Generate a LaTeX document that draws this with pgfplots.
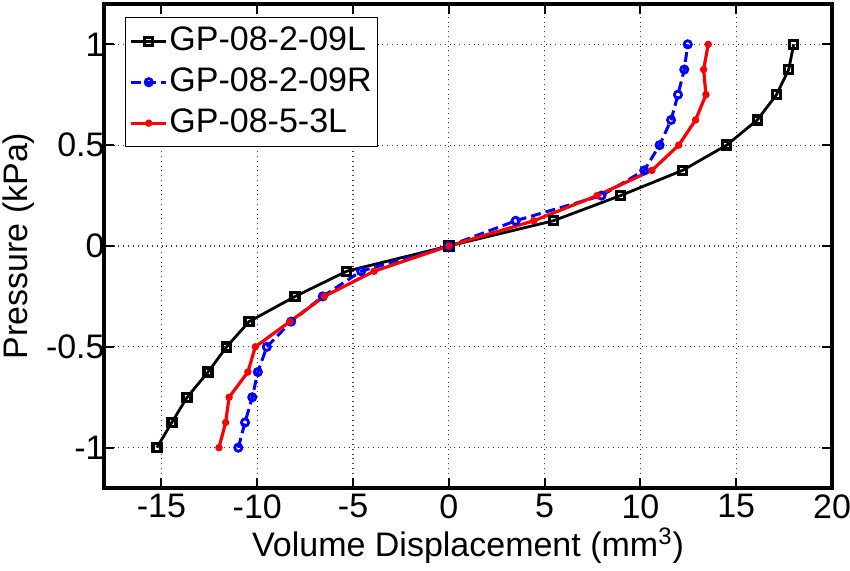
\documentclass[border=0pt]{standalone}
\usepackage{fontspec}
\setmainfont{Liberation Sans}
\usepackage{pgfplots}
\pgfplotsset{compat=1.18}

\begin{document}
\fontsize{17}{20}\selectfont
\begin{tikzpicture}
\begin{axis}[
    scale only axis,
    width=364pt, height=242pt,
    xmin=-18, xmax=20,
    ymin=-1.2, ymax=1.2,
    xtick={-15,-10,-5,0,5,10,15,20},
    ytick={-1,-0.5,0,0.5,1},
    yticklabels={-1,-0.5,0,0.5,1},
    xticklabels={-15,-10,-5,0,5,10,15,20},
    tick align=inside,
    tick pos=both,
    major tick length=5pt,
    tick style={black, line width=1pt},
    axis line style={black, line width=1.8pt},
    grid=major,
    grid style={black!75, dotted, line width=0.6pt},
    tick label style={font=\fontsize{17}{20}\selectfont},
    xticklabel style={inner ysep=3pt},
    yticklabel style={inner xsep=2pt, xshift=2.5pt},
    label style={font=\fontsize{17}{20}\selectfont},
    xlabel={Volume Displacement (mm\textsuperscript{3})},
    ylabel={Pressure (kPa)},
    xlabel style={at={(axis description cs:0.5,0)}, anchor=base, yshift=-34.5pt},
    ylabel style={at={(axis description cs:0,0.5)}, anchor=center, yshift=42.5pt},
    legend style={
        at={(0.0288,0.9731)}, anchor=north west,
        draw=black, line width=0.7pt, fill=white,
        font=\fontsize{17}{20}\selectfont,
        inner xsep=2pt, inner ysep=4pt, row sep=5pt,
        nodes={inner xsep=0.8pt, inner ysep=0pt, text height=12.5pt, text depth=3pt},
    },
    legend cell align=left,
    legend image code/.code={
        \draw[#1] (0pt,0pt) -- (17.5pt,0pt);
        \draw[#1, solid] plot coordinates {(8.75pt,0pt)};
    },
]
\addplot[black, line width=1.4pt, mark=square, mark size=2pt,
    mark options={solid, line width=1.7pt}] coordinates {
    (-15.24,-1.0) (-14.46,-0.875) (-13.66,-0.75) (-12.57,-0.625)
    (-11.6,-0.5) (-10.43,-0.375) (-8.02,-0.25) (-5.33,-0.125)
    (0,0) (5.45,0.125) (8.96,0.25) (12.2,0.375) (14.5,0.5)
    (16.1,0.625) (17.1,0.75) (17.74,0.875) (18.0,1.0)
};
\addlegendentry{GP-08-2-09L}
\addplot[blue, line width=1.5pt, dash pattern=on 5pt off 2.5pt, mark=o, mark size=1.8pt,
    mark options={solid, line width=1.4pt}] coordinates {
    (-10.99,-1.0) (-10.64,-0.875) (-10.26,-0.75) (-9.97,-0.625)
    (-9.5,-0.5) (-8.23,-0.375) (-6.58,-0.25) (-4.58,-0.125)
    (0,0) (3.49,0.125) (7.97,0.25) (10.2,0.375) (11.0,0.5)
    (11.6,0.625) (11.96,0.75) (12.29,0.875) (12.47,1.0)
};
\addlegendentry{GP-08-2-09R}
\addplot[red, line width=1.6pt, mark=*, mark size=1pt,
    mark options={solid, fill=red}] coordinates {
    (-12.0,-1.0) (-11.65,-0.875) (-11.47,-0.75) (-10.49,-0.625)
    (-10.1,-0.5) (-8.3,-0.375) (-6.5,-0.25) (-3.9,-0.125)
    (0,0) (4.43,0.125) (7.74,0.25) (10.6,0.375) (12.0,0.5)
    (12.88,0.625) (13.42,0.75) (13.3,0.875) (13.54,1.0)
};
\addlegendentry{GP-08-5-3L}
\end{axis}
\path (current axis.south west) ++(-52pt,-41.5pt) coordinate (bl);
\path (current axis.north east) ++(9pt,2pt) coordinate (tr);
\pgfresetboundingbox
\useasboundingbox (bl) rectangle (tr);
\end{tikzpicture}
\end{document}
